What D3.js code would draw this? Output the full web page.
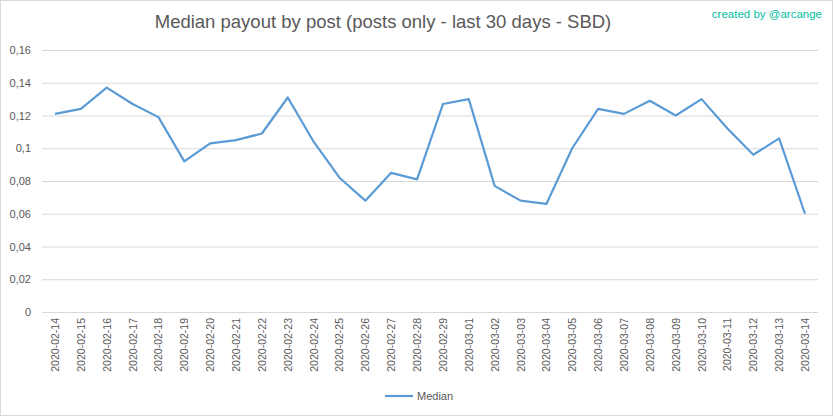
<!DOCTYPE html>
<html><head><meta charset="utf-8">
<script src="https://cdn.jsdelivr.net/npm/d3@7"></script>
<style>body{margin:0;background:#fff}text{font-family:"Liberation Sans",Arial,sans-serif}</style>
</head><body>
<svg id="c" width="833" height="416"></svg>
<script>
const categories = ["2020-02-14","2020-02-15","2020-02-16","2020-02-17","2020-02-18","2020-02-19","2020-02-20","2020-02-21","2020-02-22","2020-02-23","2020-02-24","2020-02-25","2020-02-26","2020-02-27","2020-02-28","2020-02-29","2020-03-01","2020-03-02","2020-03-03","2020-03-04","2020-03-05","2020-03-06","2020-03-07","2020-03-08","2020-03-09","2020-03-10","2020-03-11","2020-03-12","2020-03-13","2020-03-14"];
const median = [0.121,0.124,0.137,0.127,0.119,0.092,0.103,0.105,0.109,0.131,0.104,0.082,0.068,0.085,0.081,0.127,0.130,0.077,0.068,0.066,0.100,0.124,0.121,0.129,0.120,0.130,0.112,0.096,0.106,0.060];
const yTicks = [0,0.02,0.04,0.06,0.08,0.1,0.12,0.14,0.16];

const svg = d3.select("#c");
svg.append("rect").attr("x",0.5).attr("y",0.5).attr("width",832).attr("height",415).attr("fill","#fff").attr("stroke","#d9d9d9");
const L=42,R=818,T=50,B=312;
const x = d3.scalePoint().domain(categories).range([55,805]);
const y = d3.scaleLinear().domain([0,0.16]).range([B,T]);
const fmt = v => String(+v.toFixed(2)).replace(".",",");
yTicks.forEach(t=>{
  svg.append("line").attr("x1",L).attr("x2",R).attr("y1",y(t)+0.5).attr("y2",y(t)+0.5).attr("stroke","#d9d9d9");
  svg.append("text").attr("x",31).attr("y",y(t)+4).attr("text-anchor","end").attr("font-size",11).attr("fill","#595959").text(fmt(t));
});
categories.forEach(c=>{
  svg.append("text").attr("transform",`translate(${x(c)+4},${B+6}) rotate(-90)`).attr("text-anchor","end").attr("font-size",10.5).attr("fill","#595959").text(c);
});
svg.append("path").datum(median).attr("fill","none").attr("stroke","#5b9bd5").attr("stroke-width",2.2).attr("stroke-linejoin","round")
  .attr("d",d3.line().x((d,i)=>x(categories[i])).y(d=>y(d)));
svg.append("text").attr("x",383).attr("y",28).attr("text-anchor","middle").attr("font-size",18.5).attr("fill","#595959").text("Median payout by post (posts only - last 30 days - SBD)");
svg.append("text").attr("x",822).attr("y",18).attr("text-anchor","end").attr("font-size",11.5).attr("fill","#00c0a0").text("created by @arcange");
svg.append("line").attr("x1",385).attr("x2",413).attr("y1",396).attr("y2",396).attr("stroke","#5b9bd5").attr("stroke-width",2.2);
svg.append("text").attr("x",417).attr("y",400).attr("font-size",11).attr("fill","#595959").text("Median");
</script></body></html>
